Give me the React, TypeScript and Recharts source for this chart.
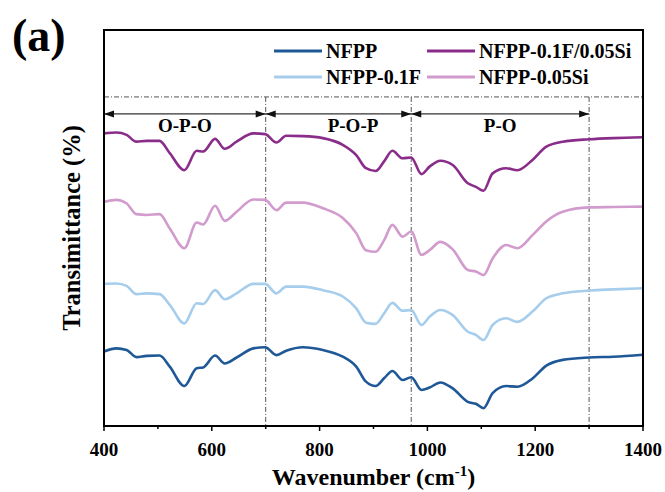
import React from 'react';
import { LineChart, Line, XAxis, YAxis, ReferenceLine } from 'recharts';

// Wavenumber grid (cm^-1)
const wavenumbers = [400, 423, 442, 460, 479, 503, 522, 549, 572, 584, 606, 624, 646, 677, 699, 720, 738, 769, 806, 843, 868, 886, 904, 920, 935, 954, 970, 989, 1004, 1024, 1047, 1075, 1090, 1104, 1121, 1146, 1167, 1195, 1220, 1251, 1300, 1345, 1400];

// Transmittance (offset, arbitrary units)
const nfpp = [18.8, 19.6, 19.2, 17.4, 17.7, 17.8, 15.0, 10.1, 14.6, 14.8, 17.8, 15.8, 17.3, 19.6, 19.9, 17.9, 19.0, 19.9, 19.2, 17.5, 15.0, 11.2, 10.1, 12.1, 13.9, 11.6, 12.3, 9.1, 9.7, 11.0, 9.5, 6.1, 5.6, 4.5, 8.3, 10.1, 9.9, 12.0, 15.2, 16.7, 17.3, 17.5, 18.0];
const nfpp01F = [35.9, 36.0, 35.4, 33.3, 33.5, 33.3, 30.6, 25.9, 31.0, 30.8, 34.3, 32.0, 33.5, 35.9, 35.9, 33.5, 35.2, 35.2, 34.3, 32.7, 29.7, 26.1, 25.8, 28.5, 31.1, 29.1, 29.3, 25.5, 27.6, 29.3, 28.0, 23.8, 23.0, 21.7, 25.5, 27.2, 26.3, 28.9, 32.2, 33.5, 34.2, 34.5, 34.8];
const nfpp005Si = [56.6, 57.1, 56.2, 53.5, 53.3, 53.5, 49.9, 44.9, 51.4, 50.9, 55.6, 51.8, 54.1, 57.2, 57.1, 54.5, 56.4, 56.4, 55.0, 52.5, 48.7, 44.4, 44.0, 47.0, 50.8, 47.8, 49.1, 43.2, 44.4, 46.5, 44.6, 39.4, 39.0, 38.1, 42.3, 45.7, 44.9, 48.2, 51.6, 54.1, 55.2, 55.3, 55.4];
const nfpp01F005Si = [73.9, 74.1, 73.5, 71.8, 72.0, 72.0, 68.9, 64.6, 69.5, 69.3, 72.5, 70.0, 71.8, 73.9, 73.7, 71.6, 73.3, 73.2, 72.7, 71.0, 68.4, 65.1, 64.4, 66.9, 69.5, 67.6, 67.8, 63.6, 65.5, 67.0, 65.9, 61.3, 60.4, 59.4, 63.8, 65.1, 64.6, 67.2, 70.5, 71.8, 72.4, 72.7, 72.9];

const seriesKeys = ['nfpp', 'nfpp01F', 'nfpp005Si', 'nfpp01F005Si'];
const seriesNames = ['NFPP', 'NFPP-0.1F', 'NFPP-0.05Si', 'NFPP-0.1F/0.05Si'];
const seriesColors = ['#1f5896', '#a6cdec', '#d29bcd', '#8a2d8a'];

// legend order (row-major, 2 columns)
const legendOrder = [0, 3, 1, 2];

const xTicks = [400, 500, 600, 700, 800, 900, 1000, 1100, 1200, 1300, 1400];
const xDomain = [400, 1400];
const yDomain = [0, 100];

// Band regions
const regionBounds = [400, 700, 970, 1300];
const regionLabels = ['O-P-O', 'P-O-P', 'P-O'];
const regionLabelPos = [550, 862, 1135];
const arrowLevel = 78.8;
const dashLevel = 83.1;

const data = wavenumbers.map((w, i) => ({
  wn: w,
  nfpp: nfpp[i],
  nfpp01F: nfpp01F[i],
  nfpp005Si: nfpp005Si[i],
  nfpp01F005Si: nfpp01F005Si[i],
}));

// layout
const W = 665;
const H = 492;
const PLOT = { left: 104, top: 30, right: 643, bottom: 426 };

const FONT = '"Liberation Serif", "Times New Roman", "DejaVu Serif", serif';

const XTick = (props: any) => {
  const { x, y, payload } = props;
  const major = payload.value % 200 === 0;
  return (
    <g>
      <line x1={x} x2={x} y1={y} y2={y + (major ? 5 : 3)} stroke="#000" strokeWidth={1.5} />
      {major && (
        <text x={x} y={y + 30} textAnchor="middle" fontFamily={FONT} fontWeight="bold" fontSize={19} fill="#000">
          {payload.value}
        </text>
      )}
    </g>
  );
};

const makeArrow = (i: number) => (p: any) => {
  const { x1, x2, y1 } = p;
  const frac = (regionLabelPos[i] - regionBounds[i]) / (regionBounds[i + 1] - regionBounds[i]);
  const lx = x1 + (x2 - x1) * frac;
  const ah = 10;
  const aw = 3.5;
  return (
    <g>
      <line x1={x1} x2={x2} y1={y1} y2={y1} stroke="#333" strokeWidth={1.2} />
      <polygon points={`${x1},${y1} ${x1 + ah},${y1 - aw} ${x1 + ah},${y1 + aw}`} fill="#111" />
      <polygon points={`${x2},${y1} ${x2 - ah},${y1 - aw} ${x2 - ah},${y1 + aw}`} fill="#111" />
      <text x={lx} y={y1 + 18} textAnchor="middle" fontFamily={FONT} fontWeight="bold" fontSize={19} fill="#000">
        {regionLabels[i]}
      </text>
    </g>
  );
};

export default function App() {
  return (
    <div style={{ position: 'absolute', left: 0, top: 0, width: W, height: H, background: '#fff' }}>
      <LineChart
        width={W}
        height={H}
        data={data}
        margin={{ top: PLOT.top, right: W - PLOT.right, bottom: 0, left: 0 }}
      >
        <XAxis
          dataKey="wn"
          type="number"
          domain={xDomain}
          ticks={xTicks}
          interval={0}
          tick={<XTick />}
          tickLine={false}
          axisLine={false}
          tickSize={0}
          tickMargin={0}
          height={H - PLOT.bottom}
          label={{
            content: (lp: any) => {
              const vb = lp.viewBox;
              return (
                <text x={vb.x + vb.width / 2} y={vb.y + 59} textAnchor="middle" fontFamily={FONT} fontWeight="bold" fontSize={24} fill="#000">
                  Wavenumber (cm
                  <tspan dy={-9} fontSize={15}>-1</tspan>
                  <tspan dy={9}>)</tspan>
                </text>
              );
            },
          }}
        />
        <YAxis
          type="number"
          domain={yDomain}
          tick={false}
          tickLine={false}
          axisLine={false}
          width={PLOT.left}
          label={{
            content: (lp: any) => {
              const vb = lp.viewBox;
              const cx = vb.x + 71;
              const cy = vb.y + vb.height / 2;
              return (
                <text x={cx} y={cy} transform={`rotate(-90, ${cx}, ${cy})`} textAnchor="middle" dominantBaseline="central" fontFamily={FONT} fontWeight="bold" fontSize={24.5} fill="#000">
                  Transimittance (%)
                </text>
              );
            },
          }}
        />
        <ReferenceLine y={dashLevel} stroke="#555" strokeWidth={1} strokeDasharray="5 2 1 2" />
        {regionBounds.slice(1).map((b) => (
          <ReferenceLine
            key={`v${b}`}
            segment={[{ x: b, y: dashLevel }, { x: b, y: 0 }]}
            stroke="#555"
            strokeWidth={1}
            strokeDasharray="5 2 1 2"
          />
        ))}
        {regionLabels.map((l, i) => (
          <ReferenceLine
            key={`a${l}`}
            segment={[{ x: regionBounds[i], y: arrowLevel }, { x: regionBounds[i + 1], y: arrowLevel }]}
            shape={makeArrow(i)}
          />
        ))}
        {seriesKeys.map((k, i) => (
          <Line
            key={k}
            dataKey={k}
            name={seriesNames[i]}
            type="monotone"
            stroke={seriesColors[i]}
            strokeWidth={2.6}
            dot={false}
            activeDot={false}
            isAnimationActive={false}
          />
        ))}
      </LineChart>
      <svg width={W} height={H} style={{ position: 'absolute', left: 0, top: 0, pointerEvents: 'none' }}>
        <rect
          x={PLOT.left}
          y={PLOT.top}
          width={PLOT.right - PLOT.left}
          height={PLOT.bottom - PLOT.top}
          fill="none"
          stroke="#000"
          strokeWidth={2}
        />
        <text x={12} y={51} fontFamily={FONT} fontWeight="bold" fontSize={46} fill="#000">(a)</text>
        {legendOrder.map((si, j) => {
          const col = j % 2;
          const row = Math.floor(j / 2);
          const lx = col === 0 ? 274 : 427;
          const ly = 51 + row * 26;
          return (
            <g key={seriesKeys[si]}>
              <line x1={lx} x2={lx + 48} y1={ly} y2={ly} stroke={seriesColors[si]} strokeWidth={3} />
              <text x={lx + 52} y={ly + 6.5} fontFamily={FONT} fontWeight="bold" fontSize={20} fill="#000">
                {seriesNames[si]}
              </text>
            </g>
          );
        })}
      </svg>
    </div>
  );
}
